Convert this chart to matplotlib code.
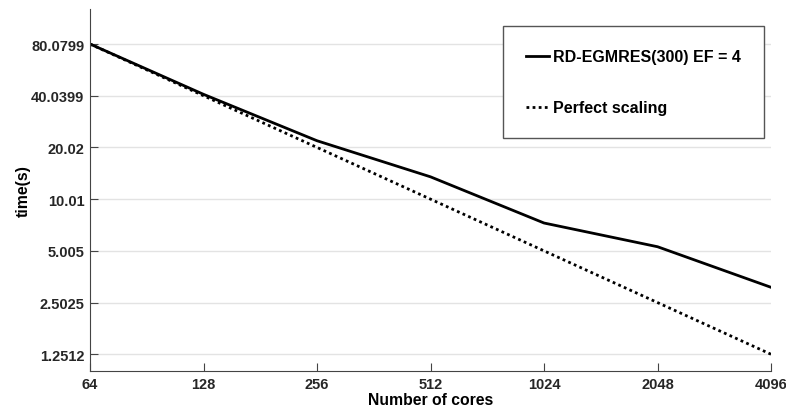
import matplotlib
matplotlib.use('Agg')
import matplotlib.pyplot as plt
import numpy as np

# data
cores = [64, 128, 256, 512, 1024, 2048, 4096]
t_rd = [80.0799, 40.8, 21.9, 13.5, 7.27, 5.29, 3.07]
t_perfect = [80.0799, 40.0399, 20.02, 10.01, 5.005, 2.5025, 1.2512]
ytick_vals = [1.2512, 2.5025, 5.005, 10.01, 20.02, 40.0399, 80.0799]
ytick_labels = ['1.2512', '2.5025', '5.005', '10.01', '20.02', '40.0399', '80.0799']

plt.rcParams['font.family'] = ['Liberation Sans', 'DejaVu Sans']
plt.rcParams['font.weight'] = 'bold'

fig = plt.figure(figsize=(7.86, 4.14), dpi=100)
ax = fig.add_axes([0.1145, 0.1014, 0.8665, 0.8744])

ax.plot(cores, t_rd, color='black', lw=2.0, label='RD-EGMRES(300) EF = 4')
ax.plot(cores, t_perfect, color='black', lw=2.0, ls=(0, (1, 1.2)), label='Perfect scaling')

ax.set_xscale('log', base=2)
ax.set_yscale('log', base=2)
ax.set_xlim(64, 4096)
ax.set_ylim(1, 128)
ax.set_xticks(cores)
ax.set_xticklabels([str(c) for c in cores])
ax.set_yticks(ytick_vals)
ax.set_yticklabels(ytick_labels)
ax.minorticks_off()

ax.grid(axis='y', color='#e3e3e3', lw=1.0)
ax.set_axisbelow(True)
for s in ['top', 'right']:
    ax.spines[s].set_visible(False)
for s in ['left', 'bottom']:
    ax.spines[s].set_color('#444444')
ax.tick_params(direction='in', length=6, color='#444444', labelsize=10.5, labelcolor='#262626', pad=4)

ax.set_xlabel('Number of cores', fontsize=11.3, fontweight='bold', labelpad=1)
ax.set_ylabel('time(s)', fontsize=11.3, fontweight='bold', labelpad=0)

leg = ax.legend(loc='upper right', bbox_to_anchor=(0.9897, 0.953), fontsize=11.5,
                handlelength=1.45, handletextpad=0.25, labelspacing=2.25,
                borderpad=1.45, fancybox=False, framealpha=1, borderaxespad=0)
leg.get_frame().set_edgecolor('#555555')
leg.get_frame().set_linewidth(1.0)
for txt in leg.get_texts():
    txt.set_fontweight('bold')
for h in leg.legend_handles:
    h.set_linewidth(2.0)

fig.savefig('out.png', dpi=100)
